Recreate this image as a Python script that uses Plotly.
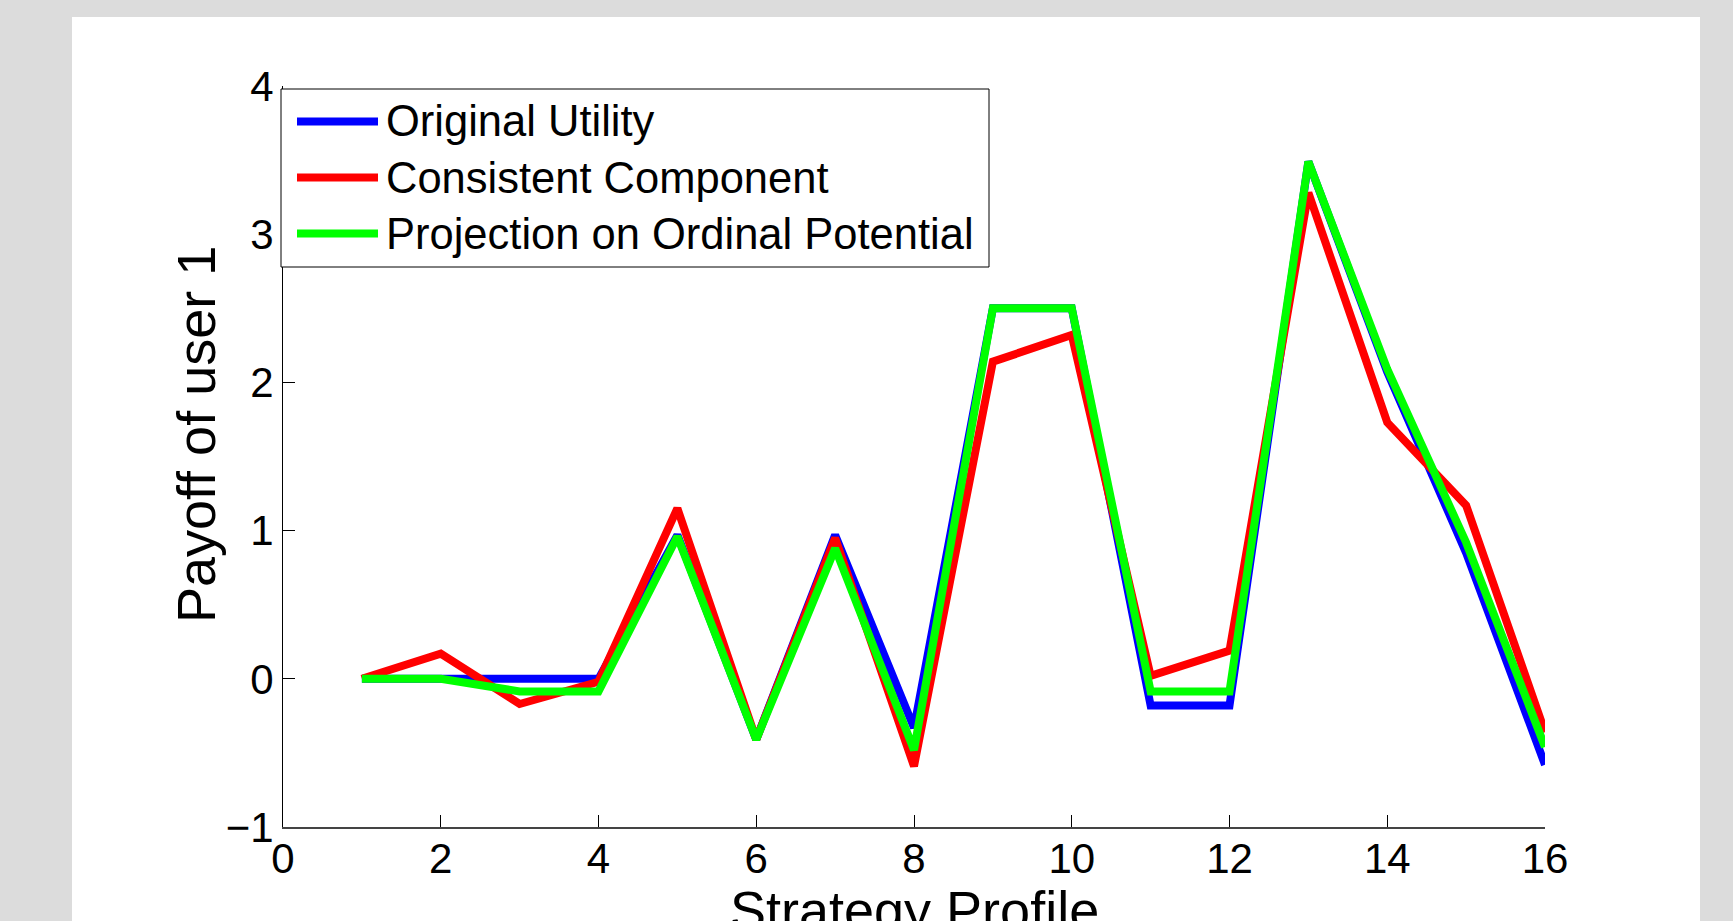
import plotly.graph_objects as go

# ---- data ----
strategy_profile = list(range(1, 17))
original_utility = [0, 0, 0, 0, 0.97, -0.41, 0.97, -0.33, 2.5, 2.5, -0.18, -0.18, 3.49, 2.07, 0.85, -0.58]
consistent_component = [0, 0.17, -0.17, -0.02, 1.15, -0.41, 0.95, -0.59, 2.14, 2.32, 0.02, 0.19, 3.28, 1.73, 1.17, -0.36]
projection_ordinal = [0, 0, -0.085, -0.085, 0.96, -0.41, 0.88, -0.48, 2.5, 2.5, -0.085, -0.085, 3.49, 2.09, 0.92, -0.46]
series_names = ["Original Utility", "Consistent Component", "Projection on Ordinal Potential"]
series_colors = ["#0000ff", "#ff0000", "#00ff00"]
x_ticks = [0, 2, 4, 6, 8, 10, 12, 14, 16]
y_ticks = [-1, 0, 1, 2, 3, 4]
x_title = "Strategy Profile"
y_title = "Payoff of user 1"

# ---- layout geometry (pixels) ----
W, H = 1733, 921
L, R, T, B = 283, 1545, 86, 827
FONT = "Liberation Sans, Arial, Helvetica, sans-serif"


def px(xp):
    return (xp - L) / (R - L)


def py(yp):
    return (B - yp) / (B - T)


fig = go.Figure()
for vals, name, color in zip([original_utility, consistent_component, projection_ordinal],
                             series_names, series_colors):
    fig.add_trace(go.Scatter(x=strategy_profile, y=vals, mode="lines", name=name,
                             line=dict(color=color, width=8), showlegend=False))

shapes = [
    # white figure panel
    dict(type="rect", xref="paper", yref="paper", x0=px(72), x1=px(1700), y0=py(960), y1=py(17),
         fillcolor="white", line=dict(width=0), layer="below"),
    # legend box
    dict(type="rect", xref="paper", yref="paper", x0=px(281), x1=px(989), y0=py(267), y1=py(89),
         fillcolor="white", line=dict(color="black", width=1), layer="above"),
]
annotations = []
row_y = [121.5, 177.5, 233.5]
for name, color, ry in zip(series_names, series_colors, row_y):
    shapes.append(dict(type="line", xref="paper", yref="paper", x0=px(297), x1=px(378),
                       y0=py(ry), y1=py(ry), line=dict(color=color, width=8), layer="above"))
    annotations.append(dict(text=name, xref="paper", yref="paper", x=px(384), y=py(ry),
                            xanchor="left", yanchor="middle", showarrow=False,
                            font=dict(family=FONT, size=43.5, color="black")))

annotations.append(dict(text=x_title, xref="paper", yref="paper", x=px(914), y=py(878),
                        xanchor="center", yanchor="top", showarrow=False,
                        font=dict(family=FONT, size=54, color="black")))
annotations.append(dict(text=y_title, xref="paper", yref="paper", x=px(196), y=py(435),
                        xanchor="center", yanchor="middle", showarrow=False, textangle=-90,
                        font=dict(family=FONT, size=54, color="black")))

fig.update_layout(
    width=W, height=H,
    margin=dict(l=L, r=W - R, t=T, b=H - B, pad=0),
    paper_bgcolor="#dcdcdc",
    plot_bgcolor="white",
    font=dict(family=FONT, size=42, color="black"),
    shapes=shapes,
    annotations=annotations,
    showlegend=False,
    xaxis=dict(range=[0, 16], tickvals=x_ticks, ticks="inside", ticklen=12, tickwidth=1,
               tickcolor="black", showline=True, linecolor="#444444", linewidth=2,
               ticklabelstandoff=-6,
               showgrid=False, zeroline=False, tickfont=dict(family=FONT, size=42, color="black")),
    yaxis=dict(range=[-1, 4], tickvals=y_ticks, ticks="inside", ticklen=12, tickwidth=1,
               tickcolor="black", showline=True, linecolor="black", linewidth=1,
               showgrid=False, zeroline=False, tickfont=dict(family=FONT, size=42, color="black")),
)

fig.write_html("out.html", config={"displayModeBar": False},
               post_script="document.body.style.margin='0';document.body.style.overflow='hidden';")
